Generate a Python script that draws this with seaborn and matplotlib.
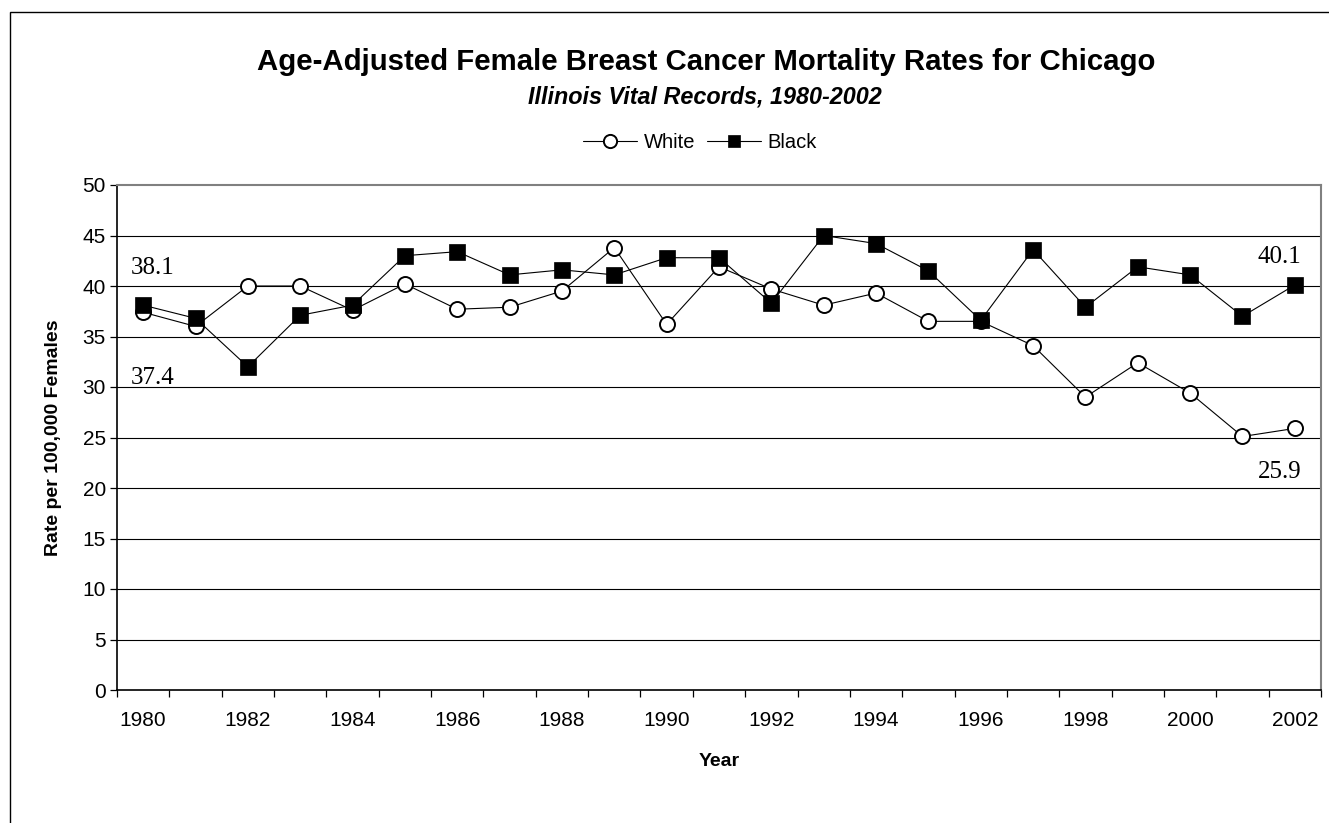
import matplotlib
matplotlib.use("Agg")
import matplotlib.pyplot as plt
from matplotlib.patches import Rectangle
import seaborn as sns
import pandas as pd

years = list(range(1980, 2003))
white = [37.4, 36.0, 40.0, 40.0, 37.6, 40.2, 37.7, 37.9, 39.5, 43.8, 36.2, 41.9,
         39.7, 38.1, 39.3, 36.5, 36.5, 34.1, 29.0, 32.4, 29.4, 25.1, 25.9]
black = [38.1, 36.8, 32.0, 37.1, 38.1, 43.0, 43.4, 41.1, 41.6, 41.1, 42.8, 42.8,
         38.3, 45.0, 44.2, 41.5, 36.6, 43.6, 37.9, 41.9, 41.1, 37.0, 40.1]
y_ticks = [0, 5, 10, 15, 20, 25, 30, 35, 40, 45, 50]
x_labels = [str(y) for y in years if y % 2 == 0]

df = pd.DataFrame({"Year": years, "White": white, "Black": black})

sns.set_theme(style="white")
plt.rcParams["font.family"] = ["Liberation Sans", "DejaVu Sans"]
plt.rcParams.update({"text.color": "black", "axes.labelcolor": "black",
                     "xtick.color": "black", "ytick.color": "black"})

W, H = 1329, 823
fig = plt.figure(figsize=(W / 100, H / 100), dpi=100)
ax = fig.add_axes([117 / W, 1 - 690 / H, (1321 - 117) / W, (690 - 185) / H])

# outer chart frame
fig.patches.append(Rectangle((10 / W, -0.1), 1.2, 1 - 12 / H + 0.1,
                             transform=fig.transFigure, fill=False,
                             edgecolor="black", linewidth=1.0, zorder=0))

for yv in y_ticks[1:-1]:
    ax.axhline(yv, color="black", linewidth=0.8, zorder=1)

sns.lineplot(data=df, x="Year", y="White", ax=ax, color="black", linewidth=0.8,
             marker="o", markersize=10.8, markerfacecolor="white",
             markeredgecolor="black", markeredgewidth=1.4, label="White",
             zorder=3)
sns.lineplot(data=df, x="Year", y="Black", ax=ax, color="black", linewidth=0.8,
             marker="s", markersize=12, markerfacecolor="black",
             markeredgecolor="black", markeredgewidth=0.5, label="Black",
             zorder=4)

ax.set_xlim(years[0] - 0.5, years[-1] + 0.5)
ax.set_ylim(y_ticks[0], y_ticks[-1])
ax.set_yticks(y_ticks)
ax.set_yticklabels([str(v) for v in y_ticks])
ax.set_xticks([int(s) for s in x_labels])
ax.set_xticklabels(x_labels)
ax.set_xticks([y - 0.5 for y in years] + [years[-1] + 0.5], minor=True)
ax.tick_params(axis="x", which="major", length=0, pad=15, labelsize=15)
ax.tick_params(axis="x", which="minor", length=5, width=0.9, color="black",
               direction="out", bottom=True)
ax.tick_params(axis="y", which="major", length=5, width=0.9, color="black",
               direction="out", left=True, pad=3, labelsize=15)

for side in ["left", "bottom"]:
    ax.spines[side].set_color("black")
    ax.spines[side].set_linewidth(1.2)
for side in ["top", "right"]:
    ax.spines[side].set_visible(True)
    ax.spines[side].set_color("#808080")
    ax.spines[side].set_linewidth(1.5)

ax.set_xlabel("Year", fontsize=14, fontweight="bold", labelpad=17)
ax.set_ylabel("Rate per 100,000 Females", fontsize=14, fontweight="bold",
              labelpad=15)

# end-point value labels
lab = dict(fontsize=18, family=["Liberation Serif"], color="black",
           ha="center", va="center", textcoords="offset pixels", zorder=5)
ax.annotate(f"{black[0]:.1f}", (years[0], black[0]), xytext=(9, 37), **lab)
ax.annotate(f"{white[0]:.1f}", (years[0], white[0]), xytext=(9, -66), **lab)
ax.annotate(f"{black[-1]:.1f}", (years[-1], black[-1]), xytext=(-15, 28), **lab)
ax.annotate(f"{white[-1]:.1f}", (years[-1], white[-1]), xytext=(-15, -44), **lab)

leg = ax.legend(loc="center", bbox_to_anchor=(700 / W, 1 - 143 / H),
                bbox_transform=fig.transFigure, ncol=2, frameon=False,
                fontsize=14.5, handlelength=2.7, handletextpad=0.3,
                columnspacing=0.6)
leg.legend_handles[0].set_markersize(9.5)
leg.legend_handles[1].set_markersize(8.5)

fig.text(706 / W, 1 - 62 / H,
         "Age-Adjusted Female Breast Cancer Mortality Rates for Chicago",
         ha="center", va="center", fontsize=21.2, fontweight="bold")
fig.text(705 / W, 1 - 97 / H, "Illinois Vital Records, 1980-2002",
         ha="center", va="center", fontsize=16.8, fontweight="bold",
         style="italic")

fig.savefig("out.png", dpi=100)
